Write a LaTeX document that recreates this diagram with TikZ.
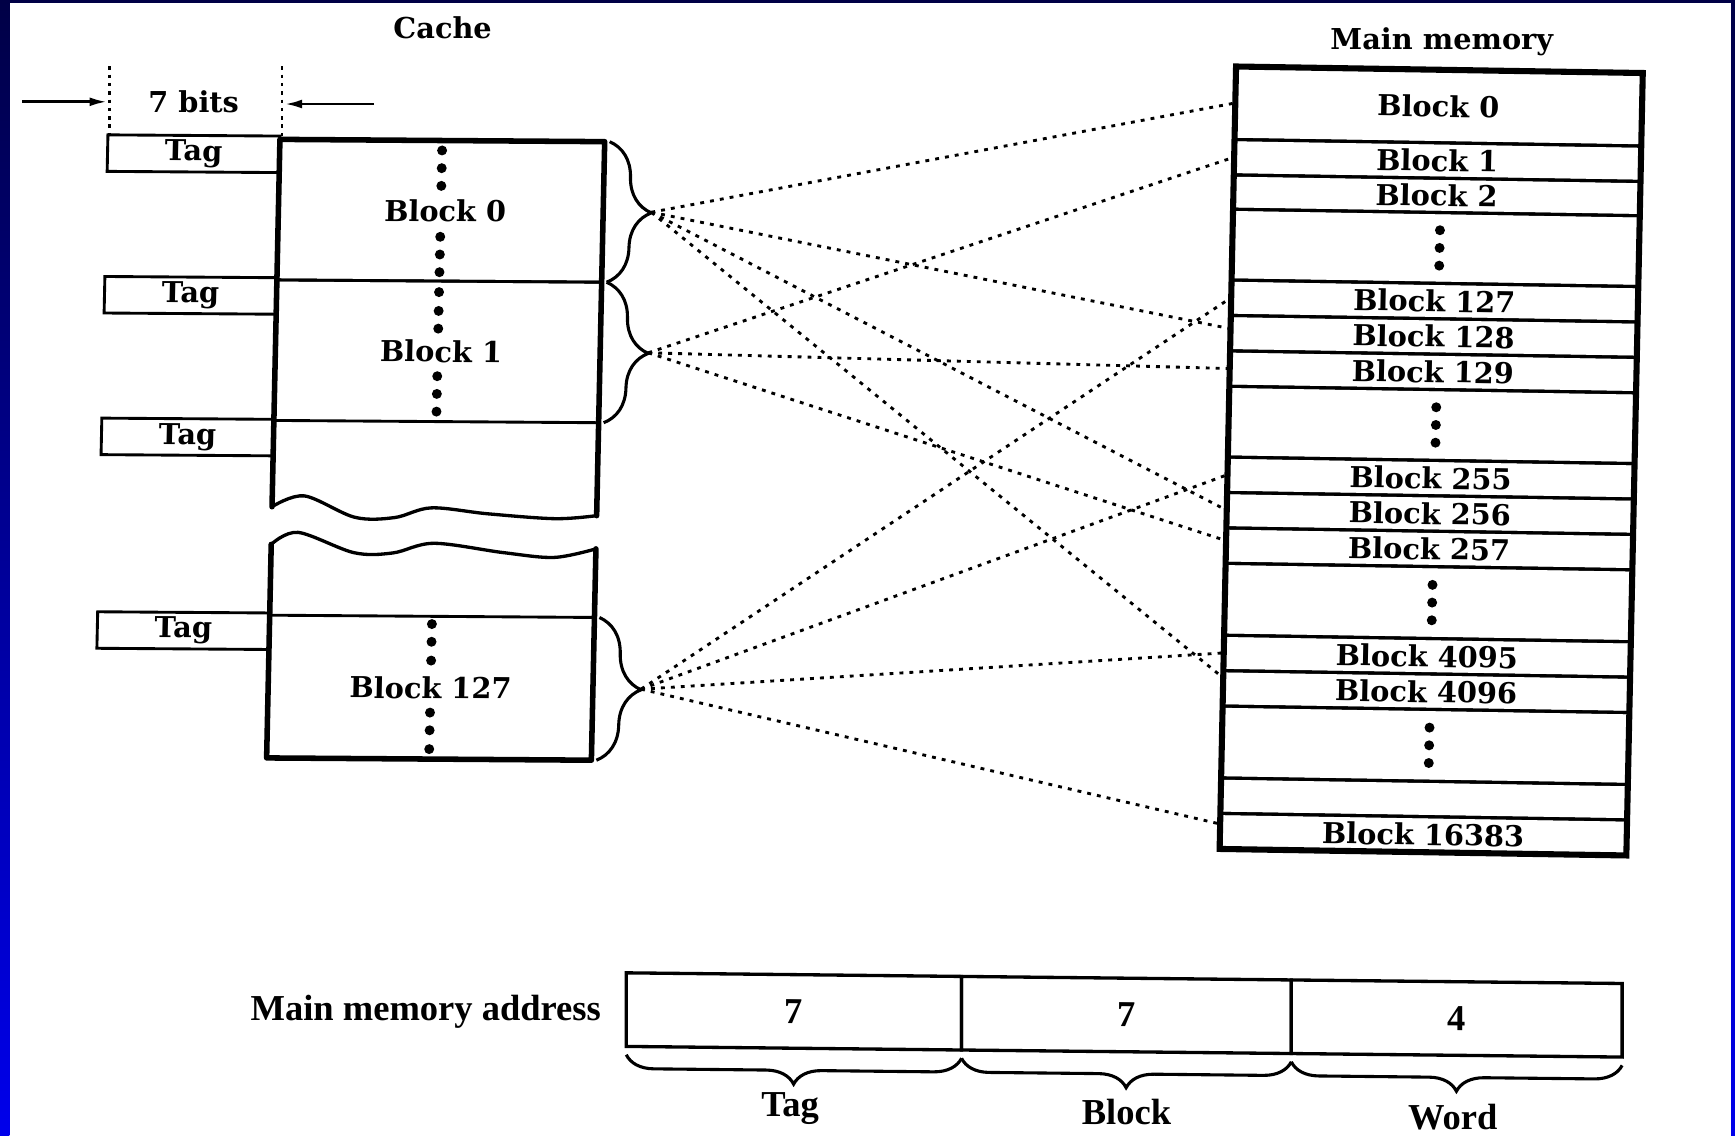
\documentclass[tikz,border=0pt]{standalone}
\usepackage{fontspec}
\setmainfont{DejaVu Serif}
\newfontfamily\addrfamily{Liberation Serif}
\usetikzlibrary{arrows.meta,decorations.pathreplacing,calc}
\definecolor{navytop}{RGB}{0,0,70}
\definecolor{bluebot}{RGB}{0,0,235}
\newcommand\blkfont{\fontsize{26}{30}\selectfont\bfseries}
\newcommand\adrfont{\addrfamily\fontsize{33}{36}\selectfont\bfseries}
\begin{document}
\begin{tikzpicture}[x=1pt,y=-1pt,
  every node/.style={inner sep=0pt, outer sep=0pt},
  memrow/.style={draw, line width=2.8pt, minimum width=367.5pt, font=\blkfont, transform shape},
  tagbox/.style={draw, line width=2.6pt, minimum width=155.5pt, minimum height=33pt, font=\blkfont, transform shape},
  cacherow/.style={draw, line width=2.6pt, minimum width=293.5pt, font=\blkfont, transform shape},
  addrbox/.style={draw, line width=3pt, minimum height=66.5pt, font=\adrfont, transform shape},
  heavy/.style={line width=5pt, line cap=round, line join=round},
  wave/.style={line width=3pt, line cap=round, line join=round},
  link/.style={line width=2.6pt, dash pattern=on 3.5pt off 5.5pt},
  guide/.style={line width=2pt, dash pattern=on 3pt off 4.5pt},
  barrow/.style={line width=2.6pt, -{Latex[length=16pt,width=8pt]}},
  cbrace/.style={decorate, decoration={brace, amplitude=39pt}, line width=2.8pt},
  abrace/.style={decorate, decoration={brace, mirror, amplitude=25pt}, line width=2.8pt},
  ttl/.style={font=\blkfont}
]
\useasboundingbox (0,0) rectangle (1568,1026);
\fill[white] (0,0) rectangle (1568,1026);
\shade[top color=navytop, bottom color=bluebot] (0,0) rectangle (8.5,1026);
\shade[top color=navytop, bottom color=bluebot] (1564.5,0) rectangle (1568,1026);
\fill[navytop] (0,0) rectangle (1568,3);

% ---------------- main memory ----------------
\begin{scope}[cm={1,-0.016,0.021,1,(8.715pt,20.69pt)}]
  \node[memrow, minimum height=66pt] (m0) at (1293.25,96) {Block 0};
  \node[memrow, minimum height=32pt] (m1) at (1293.25,145) {Block 1};
  \node[memrow, minimum height=31pt] (m2) at (1293.25,176.5) {Block 2};
  \node[memrow, minimum height=64pt] (md1) at (1293.25,224) {};
  \node[memrow, minimum height=32pt] (m127) at (1293.25,272) {Block 127};
  \node[memrow, minimum height=32pt] (m128) at (1293.25,304) {Block 128};
  \node[memrow, minimum height=32pt] (m129) at (1293.25,336) {Block 129};
  \node[memrow, minimum height=64pt] (md2) at (1293.25,384) {};
  \node[memrow, minimum height=32pt] (m255) at (1293.25,432) {Block 255};
  \node[memrow, minimum height=32pt] (m256) at (1293.25,464) {Block 256};
  \node[memrow, minimum height=32pt] (m257) at (1293.25,496) {Block 257};
  \node[memrow, minimum height=65pt] (md3) at (1293.25,544.5) {};
  \node[memrow, minimum height=32pt] (m4095) at (1293.25,593) {Block 4095};
  \node[memrow, minimum height=32pt] (m4096) at (1293.25,625) {Block 4096};
  \node[memrow, minimum height=65pt] (md4) at (1293.25,673.5) {};
  \node[memrow, minimum height=32pt] (mempty) at (1293.25,722) {};
  \node[memrow, minimum height=32pt] (m16383) at (1293.25,754) {Block 16383};
  \foreach \c in {224,384,544.5,673.5}
    \foreach \d in {-16,0,16}
      \fill (1297,\c+\d) circle[radius=4.5pt];
  \draw[line width=5.5pt, line join=miter] (m0.north west) -- (m0.north east)
     -- (m16383.south east) -- (m16383.south west) -- cycle;
\end{scope}

% ---------------- cache ----------------
\begin{scope}[cm={1,-0.007,0.0215,1,(8.71pt,2.77pt)}]
  \node[tagbox] (tag1) at (169.25,140.5) {Tag};
  \node[tagbox] (tag2) at (169.25,268.5) {Tag};
  \node[tagbox] (tag3) at (169.25,396.5) {Tag};
  \node[tagbox] (tag4) at (169.25,571.5) {Tag};
  \node[cacherow, minimum height=127pt] (c0) at (393.75,190.5) {\hspace*{8pt}Block 0};
  \node[cacherow, minimum height=127pt] (c1) at (393.75,317.5) {\hspace*{6pt}Block 1};
  \node[cacherow, minimum height=129pt] (c127) at (393.75,621.5) {Block 127};
  \foreach \y in {136,152,168,214,230,246,264,281,297,340,356,372,564,580,597,644,660,677}
    \fill (393.75,\y) circle[radius=4.5pt];
  \draw[heavy] (247,459) -- (247,127) -- (540.5,127) -- (540.5,465);
  \draw[heavy] (247,493) -- (247,686) -- (540.5,686) -- (540.5,495);
  \draw[wave] plot[smooth, tension=0.55] coordinates
    {(247,459) (276,449) (322,468) (358,468) (391,459) (442,464) (503,468) (540.5,465)};
  \draw[wave] plot[smooth, tension=0.55] coordinates
    {(247,493) (271,482) (322,500) (357,500) (394,491) (457,499) (503,503) (540.5,495)};
  \draw[cbrace] (545,127) -- (545,254);
  \draw[cbrace] (545,254) -- (545,381);
  \draw[cbrace] (545,557) -- (545,686);
  \coordinate (t1) at (584,190.5);
  \coordinate (t2) at (584,317.5);
  \coordinate (t3) at (584,621.5);
\end{scope}

\node[ttl] (cachelbl) at (400,25) {Cache};
\node[ttl] (memlbl) at (1303,38) {Main memory};
\node[ttl] (bits) at (175,92) {7 bits};

% 7 bits markers
\coordinate (gl1) at (99,60);  \coordinate (gl2) at (99,122);
\coordinate (gr1) at (255,60); \coordinate (gr2) at (255,125);
\draw[guide] (gl1) -- (gl2);
\draw[guide] (gr1) -- (gr2);
\coordinate (al0) at (20,92);  \coordinate (al1) at (97,92);
\coordinate (ar0) at (338,94); \coordinate (ar1) at (257,94);
\draw[barrow] (al0) -- (al1);
\draw[barrow] (ar0) -- (ar1);

% ---------------- mapping lines ----------------
\draw[link] (t1) -- (m0.west);
\draw[link] (t1) -- ($(m128.north west)!0.375!(m128.south west)$);
\draw[link] (t1) -- (m256.west);
\draw[link] (t1) -- ($(m4096.north west)!0.2!(m4096.south west)$);
\draw[link] (t2) -- (m1.west);
\draw[link] (t2) -- (m129.west);
\draw[link] (t2) -- ($(m257.north west)!0.36!(m257.south west)$);
\draw[link] (t3) -- (m127.west);
\draw[link] (t3) -- (m255.west);
\draw[link] (t3) -- (m4095.west);
\draw[link] (t3) -- ($(m16383.north west)!0.3!(m16383.south west)$);

% ---------------- address ----------------
\node[font=\adrfont, anchor=east] (addrlbl) at (543,914) {Main memory address};
\begin{scope}[cm={1,-0.0107,0,1,(0pt,10.87pt)}]
  \node[addrbox, minimum width=303pt] (a1) at (717.5,917.25) {\raisebox{-4pt}{7}};
  \node[addrbox, minimum width=298pt] (a2) at (1018,917.25) {\raisebox{-4pt}{7}};
  \node[addrbox, minimum width=299pt] (a3) at (1316.5,917.25) {\raisebox{-4pt}{4}};
  \draw[abrace] (566,958) -- (869,958);
  \draw[abrace] (869,958) -- (1167,958);
  \draw[abrace] (1167,958) -- (1466,958);
  \node[font=\adrfont] (ltag) at (714,1005) {Tag};
  \node[font=\adrfont] (lblock) at (1018,1005) {Block};
  \node[font=\adrfont] (lword) at (1313,1006) {Word};
\end{scope}
\end{tikzpicture}
\end{document}
